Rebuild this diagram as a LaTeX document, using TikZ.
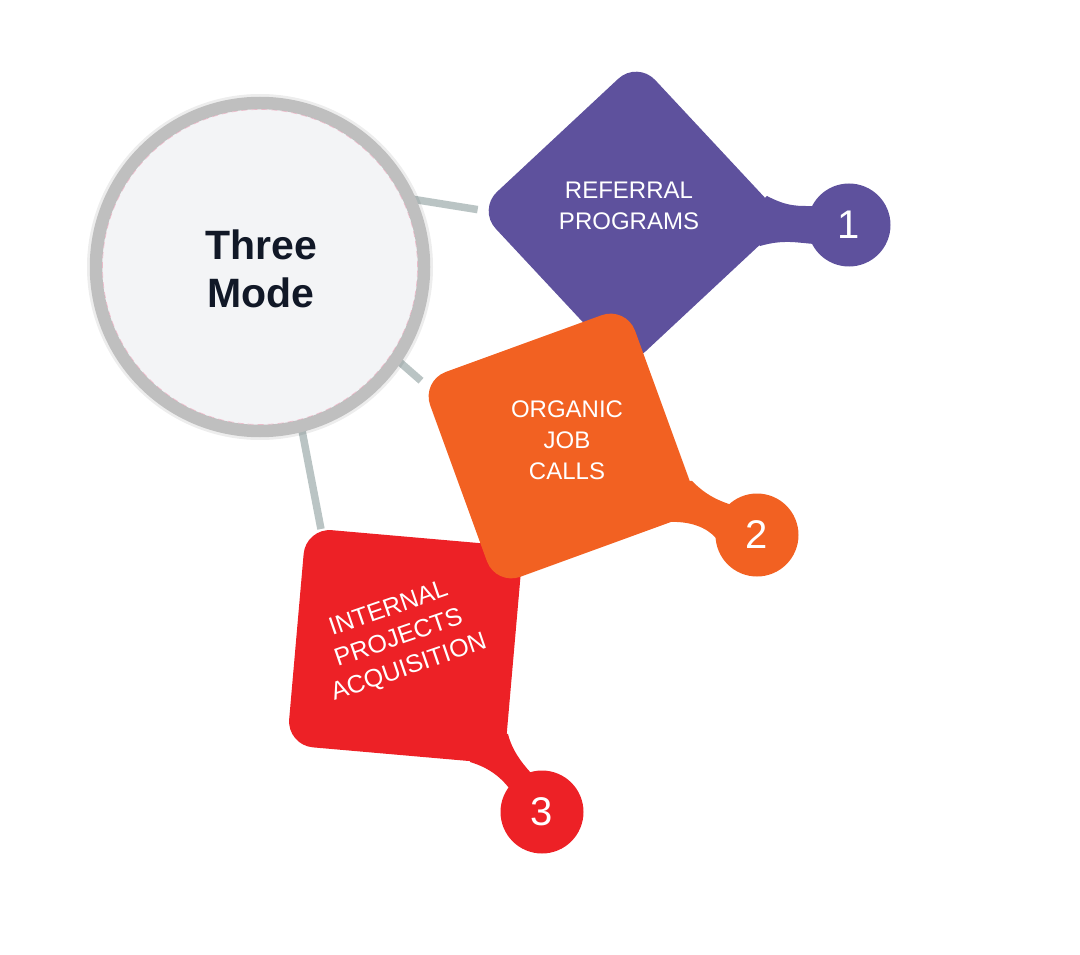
\documentclass[tikz,border=0pt]{standalone}
\usepackage{fontspec}
\setmainfont{Liberation Sans}
\usetikzlibrary{calc}
\definecolor{hubfill}{HTML}{F3F4F6}
\definecolor{ringgray}{HTML}{BFBFBF}
\definecolor{linegray}{HTML}{BAC4C4}
\definecolor{hubtext}{HTML}{111827}
\definecolor{cpurple}{HTML}{5E519D}
\definecolor{corange}{HTML}{F26122}
\definecolor{cred}{HTML}{ED2126}
\definecolor{dashpink}{HTML}{F0A0B8}
\begin{document}
\begin{tikzpicture}[x=1pt,y=-1pt,
  conn/.style={draw=linegray, line width=7.5pt},
  tile/.style={rectangle, minimum size=218pt, inner sep=0pt, rounded corners=26pt},
  badge/.style={circle, minimum size=83pt, inner sep=0pt, text=white, font=\fontsize{40}{40}\selectfont},
  lbl/.style={text=white, align=center, font=\fontsize{24}{31}\selectfont},
  hubtxt/.style={align=center, font=\bfseries\fontsize{41}{48}\selectfont}
]
\useasboundingbox (0,0) rectangle (1080,955);

\coordinate (hubc) at (260,267);
\coordinate (h1) at (402,197.5);
\coordinate (h2) at (395,358);
\coordinate (h3) at (300,420);

% tile outlines (positions only), then connectors behind everything
\path (632,215) node[tile, rotate=-47] (d1p) {};
\path (561,446) node[tile, rotate=20] (d2p) {};
\path (405,646) node[tile, rotate=-5] (d3p) {};
\draw[conn] (h1) -- (d1p.south west);
\draw[conn] (h2) -- (d2p.north west);
\draw[conn] (h3) -- ($(d3p.north west)!0.07!(d3p.north east)$);

% hub circle
\draw[black, opacity=0.07, line width=4pt] (hubc) circle[radius=171pt];
\node[circle, minimum size=316pt, inner sep=0pt, fill=hubfill] (hub) at (hubc) {};
\draw[ringgray, line width=12.5pt] (hubc) circle[radius=164pt];
\draw[dashpink, opacity=0.6, line width=0.7pt, dash pattern=on 6pt off 4pt] (hubc) circle[radius=157.5pt];
\node[hubtxt, text=hubtext] (hubt) at (261,269) {Three\\Mode};

% tile 1 (purple)
\node[tile, rotate=-47, fill=cpurple] (d1) at (632,215) {};
\fill[cpurple] (767,196) .. controls (788,207) and (798,206) .. (815,206)
  -- (815,244) .. controls (798,243) and (784,239) .. (760,246) -- (740,220) -- cycle;
\node[badge, fill=cpurple] (b1) at (849,225) {1};

% tile 3 (red)
\node[tile, rotate=-5, fill=cred] (d3) at (405,646) {};
\fill[cred] (470,762) .. controls (490,768) and (502,778) .. (512,792)
  -- (542,812) -- (531,773) .. controls (521,762) and (512,750) .. (508,734) -- (480,730) -- cycle;
\node[badge, fill=cred] (b3) at (542,812) {3};

% tile 2 (orange)
\node[tile, rotate=20, fill=corange] (d2) at (561,446) {};
\fill[corange] (692,481) .. controls (705,494) and (716,500) .. (732,505)
  -- (757,535) -- (716,538) .. controls (706,527) and (690,521) .. (668,522) -- (650,480) -- cycle;
\node[badge, fill=corange] (b2) at (757,535) {2};

% labels
\node[lbl] (t1) at (629,206) {REFERRAL\\PROGRAMS};
\node[lbl] (t2) at (567,440) {ORGANIC\\JOB\\CALLS};
\node[lbl, rotate=19, font=\fontsize{25}{31}\selectfont] (t3) at (399,639) {INTERNAL\\PROJECTS\\ACQUISITION};
\end{tikzpicture}
\end{document}
